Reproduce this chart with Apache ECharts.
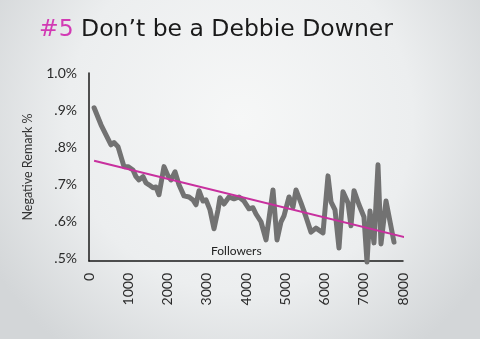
<!DOCTYPE html>
<html>
<head>
<meta charset="utf-8">
<script src="https://cdn.jsdelivr.net/npm/echarts@6/dist/echarts.min.js"></script>
<style>
html,body{margin:0;padding:0;background:#e9ebec;}
#c{width:480px;height:339px;}
</style>
</head>
<body>
<div id="c"></div>
<script>
// Followers (x) and Negative Remark % (y)
var followers = [130,306,433,561,637,739,815,892,994,1121,1197,1274,1376,1452,1529,1631,1707,1783,1911,2013,2089,2191,2293,2420,2548,2650,2726,2803,2904,2981,3083,3185,3287,3338,3439,3567,3694,3822,3949,4076,4178,4255,4382,4510,4688,4790,4892,4968,5096,5197,5274,5401,5529,5656,5783,5962,6089,6166,6268,6369,6471,6599,6675,6752,6879,7006,7083,7159,7261,7363,7439,7567,7771];
var negativePct = [0.906,0.860,0.833,0.806,0.812,0.801,0.774,0.747,0.747,0.738,0.720,0.711,0.720,0.703,0.698,0.690,0.692,0.671,0.747,0.722,0.711,0.733,0.698,0.668,0.665,0.657,0.644,0.682,0.654,0.657,0.630,0.579,0.630,0.663,0.646,0.665,0.660,0.665,0.654,0.633,0.636,0.619,0.598,0.549,0.684,0.549,0.598,0.614,0.665,0.638,0.684,0.649,0.611,0.570,0.581,0.568,0.722,0.652,0.630,0.527,0.679,0.649,0.587,0.682,0.644,0.611,0.489,0.627,0.541,0.752,0.538,0.654,0.543];
var trendX = [130, 8250];
var trendY = [0.763, 0.551];
var yTickValues = [0.5,0.6,0.7,0.8,0.9,1.0];
var yTickLabels = ['.5%','.6%','.7%','.8%','.9%','1.0%'];
var xTickLabels = ['0','1000','2000','3000','4000','5000','6000','7000','8000'];

var lineData = followers.map(function(f,i){return [f, negativePct[i]];});
var trendData = trendX.map(function(f,i){return [f, trendY[i]];});

var chart = echarts.init(document.getElementById('c'));
var font = 'Lato, "Noto Sans", sans-serif';
var tfont = '"DejaVu Sans", "Open Sans", sans-serif';
chart.setOption({
  backgroundColor: {
    type: 'radial', x: 0.5, y: 0.35, r: 0.85,
    colorStops: [{offset:0,color:'#f6f7f7'},{offset:0.6,color:'#eceeef'},{offset:1,color:'#d3d6d8'}]
  },
  animation: false,
  title: {
    text: '{p|#5} Don’t be a Debbie Downer',
    left: 34, top: 13,
    textStyle: {
      fontFamily: tfont, fontSize: 23.5, fontWeight: 'normal', color: '#1a1a1a',
      rich: { p: { color: '#d23ab4', fontFamily: tfont, fontSize: 23.5 } }
    }
  },
  grid: { left: 89, right: 77, top: 73, bottom: 78 },
  xAxis: {
    type: 'value', min: 0, max: 8000, interval: 1000,
    axisLine: { show: true, lineStyle: { color: '#1a1a1a', width: 1.5 } },
    axisTick: { show: false },
    splitLine: { show: false },
    axisLabel: {
      rotate: 90, margin: 12, fontFamily: font, fontSize: 14, color: '#2a2a2a',
      formatter: function(v){ return xTickLabels[Math.round(v/1000)]; }
    }
  },
  yAxis: {
    type: 'value', min: 0.492, max: 1.0,
    name: 'Negative Remark %', nameLocation: 'middle', nameGap: 55, nameRotate: 90,
    nameTextStyle: { fontFamily: font, fontSize: 12.5, color: '#333' },
    axisLine: { show: true, lineStyle: { color: '#1a1a1a', width: 1.5 } },
    axisTick: { show: false },
    splitLine: { show: false },
    axisLabel: {
      customValues: yTickValues, margin: 12, fontFamily: font, fontSize: 14, color: '#2a2a2a',
      formatter: function(v){
        var i = yTickValues.findIndex(function(t){return Math.abs(t-v)<1e-6;});
        return i >= 0 ? yTickLabels[i] : '';
      }
    }
  },
  graphic: [{
    type: 'text', left: 211, top: 245,
    style: { text: 'Followers', fontFamily: font, fontSize: 12, fill: '#222' }
  }],
  series: [{
    type: 'line', data: lineData, showSymbol: false, clip: false,
    lineStyle: { color: '#727272', width: 5, join: 'round', cap: 'round' },
    z: 2
  }, {
    type: 'line', data: trendData, showSymbol: false, clip: false,
    lineStyle: { color: '#c8309e', width: 2 },
    z: 3
  }]
});
</script>
</body>
</html>
